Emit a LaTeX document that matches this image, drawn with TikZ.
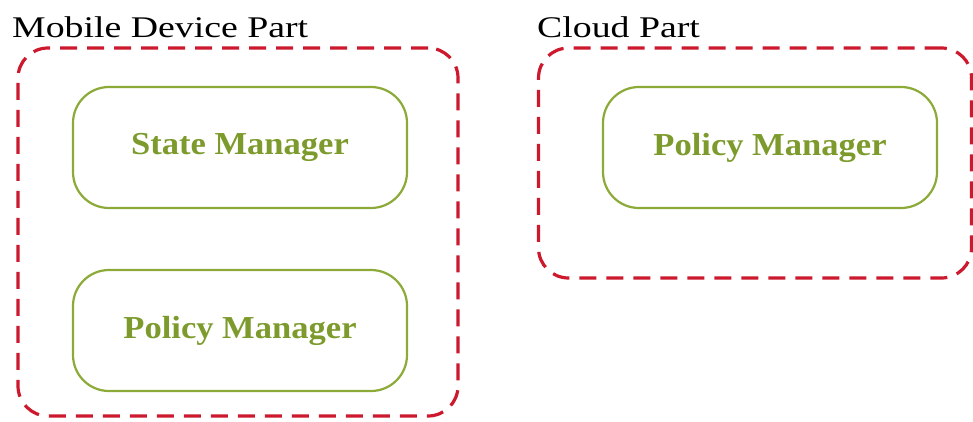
\documentclass[tikz,border=0pt]{standalone}
\usepackage{fontspec}
\setmainfont{Liberation Serif}
\newfontfamily\titlefont[FakeStretch=1.26]{Liberation Serif}
\newfontfamily\mgrfont[FakeStretch=1.08]{Liberation Serif}
\definecolor{boxred}{RGB}{205,25,45}
\definecolor{leaf}{RGB}{140,170,55}
\definecolor{leaftext}{RGB}{125,155,45}
\begin{document}
\begin{tikzpicture}[x=1pt,y=-1pt,
  group/.style={draw=boxred, line width=3.2pt, dash pattern=on 17pt off 10pt, rounded corners=30pt, inner sep=0pt},
  mgr/.style={draw=leaf, line width=2.2pt, rounded corners=36pt, inner sep=0pt, minimum width=334pt, minimum height=121pt, text=leaftext, font=\mgrfont\fontsize{32}{36}\selectfont\bfseries},
  title/.style={anchor=base west, inner sep=0pt, font=\titlefont\fontsize{30}{34}\selectfont}]
\useasboundingbox (0,0) rectangle (973,422);
\node[group, minimum width=440pt, minimum height=368pt] (mobile) at (238,232) {};
\node[group, minimum width=433pt, minimum height=230pt] (cloud) at (755,163) {};
\node[title] (mtitle) at (12,38) {Mobile Device Part};
\node[title] (ctitle) at (537,38) {Cloud Part};
\node[mgr] (state) at (240,147.5) {State Manager};
\node[mgr] (mpolicy) at (240,330.5) {Policy Manager};
\node[mgr] (cpolicy) at (770,147.5) {Policy Manager};
\end{tikzpicture}
\end{document}
